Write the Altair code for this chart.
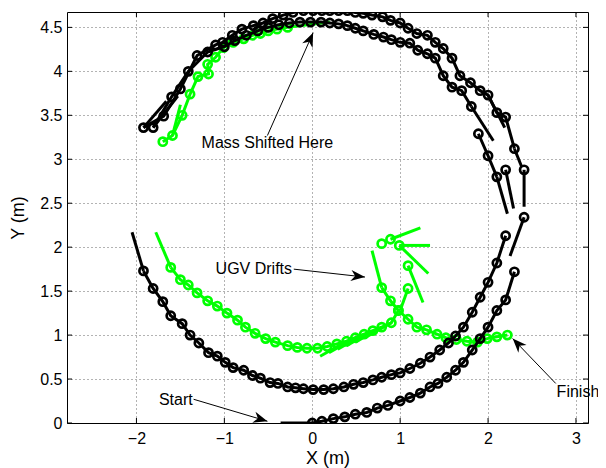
import altair as alt
import numpy as np
import pandas as pd

X_DOMAIN = [-2.79, 3.137]
Y_DOMAIN = [0.0, 4.675]
X_TICKS = [-2, -1, 0, 1, 2, 3]
Y_TICKS = [0, 0.5, 1, 1.5, 2, 2.5, 3, 3.5, 4, 4.5]

# ---------------- black trajectory ----------------
BLK_A1_X = [0.00, 0.11, 0.24, 0.37, 0.49, 0.62, 0.74, 0.86, 1.00, 1.11, 1.23, 1.34, 1.43, 1.53, 1.63, 1.72, 1.82, 1.91, 2.00, 2.10, 2.20, 2.30]
BLK_A1_Y = [0.00, 0.02, 0.05, 0.07, 0.10, 0.12, 0.17, 0.20, 0.25, 0.29, 0.34, 0.41, 0.45, 0.52, 0.60, 0.69, 0.83, 0.96, 1.09, 1.28, 1.40, 1.72]
BLK_A2_X = [2.30, 2.20, 2.10, 2.00, 1.91, 1.80, 1.68, 1.59, 1.49, 1.40, 1.31, 1.19, 1.09, 1.00, 0.89, 0.80, 0.68, 0.58, 0.49, 0.40, 0.30, 0.20, 0.11, 0.01, -0.10, -0.22, -0.33, -0.45, -0.56, -0.67, -0.80, -0.91, -1.02, -1.10, -1.31, -1.50, -1.69, -1.92]
BLK_A2_Y = [3.12, 3.48, 3.53, 3.73, 3.78, 3.87, 3.95, 4.15, 4.26, 4.33, 4.41, 4.43, 4.49, 4.55, 4.58, 4.62, 4.64, 4.66, 4.67, 4.69, 4.69, 4.69, 4.69, 4.69, 4.69, 4.67, 4.64, 4.60, 4.55, 4.52, 4.48, 4.41, 4.33, 4.30, 4.18, 3.80, 3.49, 3.36]
BLK_B1_X = [-1.92, -1.81, -1.70, -1.61, -1.48, -1.39, -1.29, -1.18, -1.08, -0.99, -0.90, -0.78, -0.68, -0.59, -0.48, -0.39, -0.28, -0.19, -0.10, 0.01, 0.13, 0.24, 0.36, 0.47, 0.58, 0.69, 0.79, 0.90, 1.00, 1.11, 1.23, 1.34, 1.45, 1.55, 1.63, 1.72, 1.82, 1.91, 2.00, 2.10, 2.20]
BLK_B1_Y = [1.73, 1.53, 1.38, 1.22, 1.13, 1.00, 0.91, 0.80, 0.76, 0.69, 0.63, 0.60, 0.54, 0.51, 0.46, 0.45, 0.41, 0.40, 0.39, 0.38, 0.38, 0.39, 0.41, 0.44, 0.46, 0.49, 0.52, 0.55, 0.57, 0.62, 0.68, 0.75, 0.83, 0.91, 0.99, 1.09, 1.26, 1.43, 1.60, 1.82, 2.13]
BLK_B2_X = [2.10, 2.00, 1.89]
BLK_B2_Y = [2.80, 3.04, 3.29]
BLK_B3_X = [1.81, 1.70, 1.59, 1.49, 1.40, 1.31, 1.20, 1.11, 1.00, 0.90, 0.81, 0.70, 0.58, 0.49, 0.40, 0.30, 0.20, 0.10, -0.02, -0.14, -0.26, -0.38, -0.50, -0.62, -0.75, -0.88, -1.00, -1.19, -1.41, -1.60, -1.81]
BLK_B3_Y = [3.60, 3.78, 3.82, 3.95, 4.15, 4.20, 4.24, 4.32, 4.33, 4.36, 4.39, 4.42, 4.46, 4.49, 4.52, 4.54, 4.55, 4.56, 4.56, 4.56, 4.55, 4.53, 4.50, 4.46, 4.41, 4.35, 4.28, 4.22, 4.00, 3.71, 3.36]
BLK_PT_X = [2.41, 2.41, 2.20]
BLK_PT_Y = [2.34, 2.88, 2.88]
BLK_TAIL_X0 = [0.00, 2.41, 2.41, 2.20, 2.10, 2.30, 1.81, -1.92, -1.92, -1.81, 2.00]
BLK_TAIL_Y0 = [0.00, 2.34, 2.88, 2.88, 2.80, 3.12, 3.60, 1.73, 3.36, 3.36, 3.73]
BLK_TAIL_X1 = [-0.36, 2.25, 2.41, 2.29, 2.22, 2.38, 2.06, -2.05, -1.66, -1.53, 2.19]
BLK_TAIL_Y1 = [0.00, 1.90, 2.46, 2.44, 2.38, 2.92, 3.21, 2.17, 3.66, 3.72, 3.36]

# ---------------- green trajectory ----------------
GRN_G1_X = [-0.28, -0.40, -0.50, -0.59, -0.68, -0.78, -0.90, -1.01, -1.10, -1.19, -1.18, -1.30, -1.39, -1.48, -1.59, -1.70]
GRN_G1_Y = [4.50, 4.48, 4.46, 4.43, 4.41, 4.37, 4.33, 4.27, 4.16, 4.08, 3.97, 3.94, 3.74, 3.50, 3.27, 3.20]
GRN_G2_X = [-1.61, -1.50, -1.41, -1.31, -1.19, -1.08, -0.97, -0.85, -0.76, -0.65, -0.53, -0.42, -0.28, -0.17, -0.06, 0.06, 0.17, 0.28, 0.39, 0.49, 0.59, 0.69, 0.79, 0.90, 0.98, 0.89, 0.79]
GRN_G2_Y = [1.77, 1.63, 1.57, 1.48, 1.39, 1.33, 1.25, 1.17, 1.09, 1.02, 0.96, 0.92, 0.88, 0.86, 0.85, 0.85, 0.87, 0.90, 0.93, 0.97, 1.01, 1.05, 1.09, 1.14, 1.28, 1.39, 1.54]
GRN_G3_X = [0.98, 1.09, 1.19, 1.30, 1.42, 1.52, 1.64, 1.76, 1.88, 1.99, 2.10, 2.22]
GRN_G3_Y = [1.28, 1.18, 1.09, 1.06, 1.01, 0.97, 0.95, 0.93, 0.92, 0.96, 0.98, 1.00]
GRN_PT_X = [0.79, 0.89, 0.99, 1.09, 1.09]
GRN_PT_Y = [2.04, 2.09, 2.02, 1.79, 1.53]
GRN_TAIL_X0 = [-0.28, -1.59, -1.61, 0.79, 0.89, 0.99, 0.99, 1.09, 1.09, 0.39, 0.49, 0.59, 0.69, 0.79, 0.90]
GRN_TAIL_Y0 = [4.50, 3.27, 1.77, 1.54, 2.09, 2.02, 2.02, 1.79, 1.53, 0.93, 0.97, 1.01, 1.05, 1.09, 1.14]
GRN_TAIL_X1 = [0.20, -1.50, -1.78, 0.68, 1.23, 1.34, 1.32, 1.26, 1.00, 0.09, 0.19, 0.29, 0.39, 0.49, 0.60]
GRN_TAIL_Y1 = [4.56, 3.62, 2.17, 1.96, 2.22, 2.02, 1.70, 1.37, 1.28, 0.76, 0.80, 0.84, 0.88, 0.92, 0.97]

# ---------------- annotations ----------------
NOTE_TEXT = ["Mass Shifted Here", "UGV Drifts", "Start", "Finish"]
NOTE_TX = [-0.51, -0.23, -1.36, 2.78]
NOTE_TY = [3.19, 1.75, 0.26, 0.35]
NOTE_ALIGN = ["center", "right", "right", "left"]
ARROW_X0 = [-0.51, -0.21, -1.35, 2.77]
ARROW_Y0 = [3.27, 1.75, 0.27, 0.45]
ARROW_X1 = [0.01, 0.60, -0.51, 2.28]
ARROW_Y1 = [4.44, 1.66, 0.02, 0.96]

W, H = 521, 411
FONT = "Liberation Sans"
GREEN = "#00ff00"

xs = alt.Scale(domain=X_DOMAIN, nice=False, zero=False)
ys = alt.Scale(domain=Y_DOMAIN, nice=False, zero=False)
XAX = alt.Axis(values=X_TICKS, title="X (m)", format="~g", labelPadding=7, titlePadding=3)
YAX = alt.Axis(values=Y_TICKS, title="Y (m)", format="~g", labelPadding=5, titlePadding=12)


def X(field):
    return alt.X(field, scale=xs, axis=XAX, title="X (m)")


def Y(field):
    return alt.Y(field, scale=ys, axis=YAX, title="Y (m)")


def chains(pieces):
    rows = []
    for k, (px, py) in enumerate(pieces):
        for i, (a, b) in enumerate(zip(px, py)):
            rows.append({"x": a, "y": b, "piece": k, "i": i})
    return pd.DataFrame(rows)


def tails(x0, y0, x1, y1):
    return pd.DataFrame({"x": x0, "y": y0, "x2": x1, "y2": y1})


def points(pieces, extra_x, extra_y):
    xx, yy = list(extra_x), list(extra_y)
    for px, py in pieces:
        xx += px
        yy += py
    return pd.DataFrame({"x": xx, "y": yy})


def run_layers(pieces, px, py, tx0, ty0, tx1, ty1, color):
    line = alt.Chart(chains(pieces)).mark_line(color=color, strokeWidth=3, clip=True).encode(
        x=X("x:Q"), y=Y("y:Q"), detail="piece:N", order="i:Q",
    )
    tl = alt.Chart(tails(tx0, ty0, tx1, ty1)).mark_rule(color=color, strokeWidth=3, clip=True).encode(
        x=X("x:Q"), y=Y("y:Q"), x2="x2:Q", y2="y2:Q",
    )
    pts = alt.Chart(points(pieces, px, py)).mark_point(
        shape="circle", filled=False, color=color, size=66, strokeWidth=2.7, opacity=1, clip=True
    ).encode(x=X("x:Q"), y=Y("y:Q"))
    return [line, tl, pts]


tick_x = pd.DataFrame({"t": X_TICKS})
tick_y = pd.DataFrame({"t": Y_TICKS})
tk = dict(color="black", strokeWidth=1)
ticks = [
    alt.Chart(tick_x).mark_rule(**tk).encode(x=X("t:Q"), y=alt.value(H), y2=alt.value(H - 5)),
    alt.Chart(tick_x).mark_rule(**tk).encode(x=X("t:Q"), y=alt.value(0), y2=alt.value(5)),
    alt.Chart(tick_y).mark_rule(**tk).encode(y=Y("t:Q"), x=alt.value(0), x2=alt.value(5)),
    alt.Chart(tick_y).mark_rule(**tk).encode(y=Y("t:Q"), x=alt.value(W), x2=alt.value(W - 5)),
]

green = run_layers(
    [(GRN_G1_X, GRN_G1_Y), (GRN_G2_X, GRN_G2_Y), (GRN_G3_X, GRN_G3_Y)],
    GRN_PT_X, GRN_PT_Y, GRN_TAIL_X0, GRN_TAIL_Y0, GRN_TAIL_X1, GRN_TAIL_Y1, GREEN,
)
black = run_layers(
    [(BLK_A1_X, BLK_A1_Y), (BLK_A2_X, BLK_A2_Y), (BLK_B1_X, BLK_B1_Y), (BLK_B2_X, BLK_B2_Y), (BLK_B3_X, BLK_B3_Y)],
    BLK_PT_X, BLK_PT_Y, BLK_TAIL_X0, BLK_TAIL_Y0, BLK_TAIL_X1, BLK_TAIL_Y1, "black",
)

# arrows
arr = pd.DataFrame({"x": ARROW_X0, "y": ARROW_Y0, "x2": ARROW_X1, "y2": ARROW_Y1})
arr["ang"] = (90 - np.degrees(np.arctan2(arr["y2"] - arr["y"], arr["x2"] - arr["x"]))) % 360
arrow_lines = alt.Chart(arr).mark_rule(color="black", strokeWidth=1).encode(
    x=X("x:Q"), y=Y("y:Q"), x2="x2:Q", y2="y2:Q"
)
HEAD = "M0,0 L-0.4,1 L0,0.7 L0.4,1 Z"
arrow_heads = alt.Chart(arr).mark_point(shape=HEAD, filled=True, color="black", size=800, opacity=1, strokeWidth=0).encode(
    x=X("x2:Q"), y=Y("y2:Q"), angle=alt.Angle("ang:Q", scale=None)
)

notes = []
for txt, tx, ty, al in zip(NOTE_TEXT, NOTE_TX, NOTE_TY, NOTE_ALIGN):
    d = pd.DataFrame({"x": [tx], "y": [ty], "t": [txt]})
    notes.append(
        alt.Chart(d).mark_text(align=al, baseline="middle", font=FONT, fontSize=16, color="black").encode(
            x=X("x:Q"), y=Y("y:Q"), text="t:N"
        )
    )

chart = alt.layer(*ticks, *green, *black, arrow_lines, arrow_heads, *notes).properties(
    width=W, height=H, autosize="none",
    padding={"left": 59, "top": 4, "right": 10, "bottom": 48},
).configure_view(stroke="black", strokeWidth=1).configure_axis(
    grid=True, gridDash=[1, 3], gridColor="#000000", gridOpacity=0.6, gridWidth=1,
    ticks=False, domain=False,
    labelFont=FONT, labelFontSize=16, labelColor="black",
    titleFont=FONT, titleFontSize=18, titleFontWeight="normal", titleColor="black",
)

chart.save("out.html", embed_options={"renderer": "svg", "actions": False})
